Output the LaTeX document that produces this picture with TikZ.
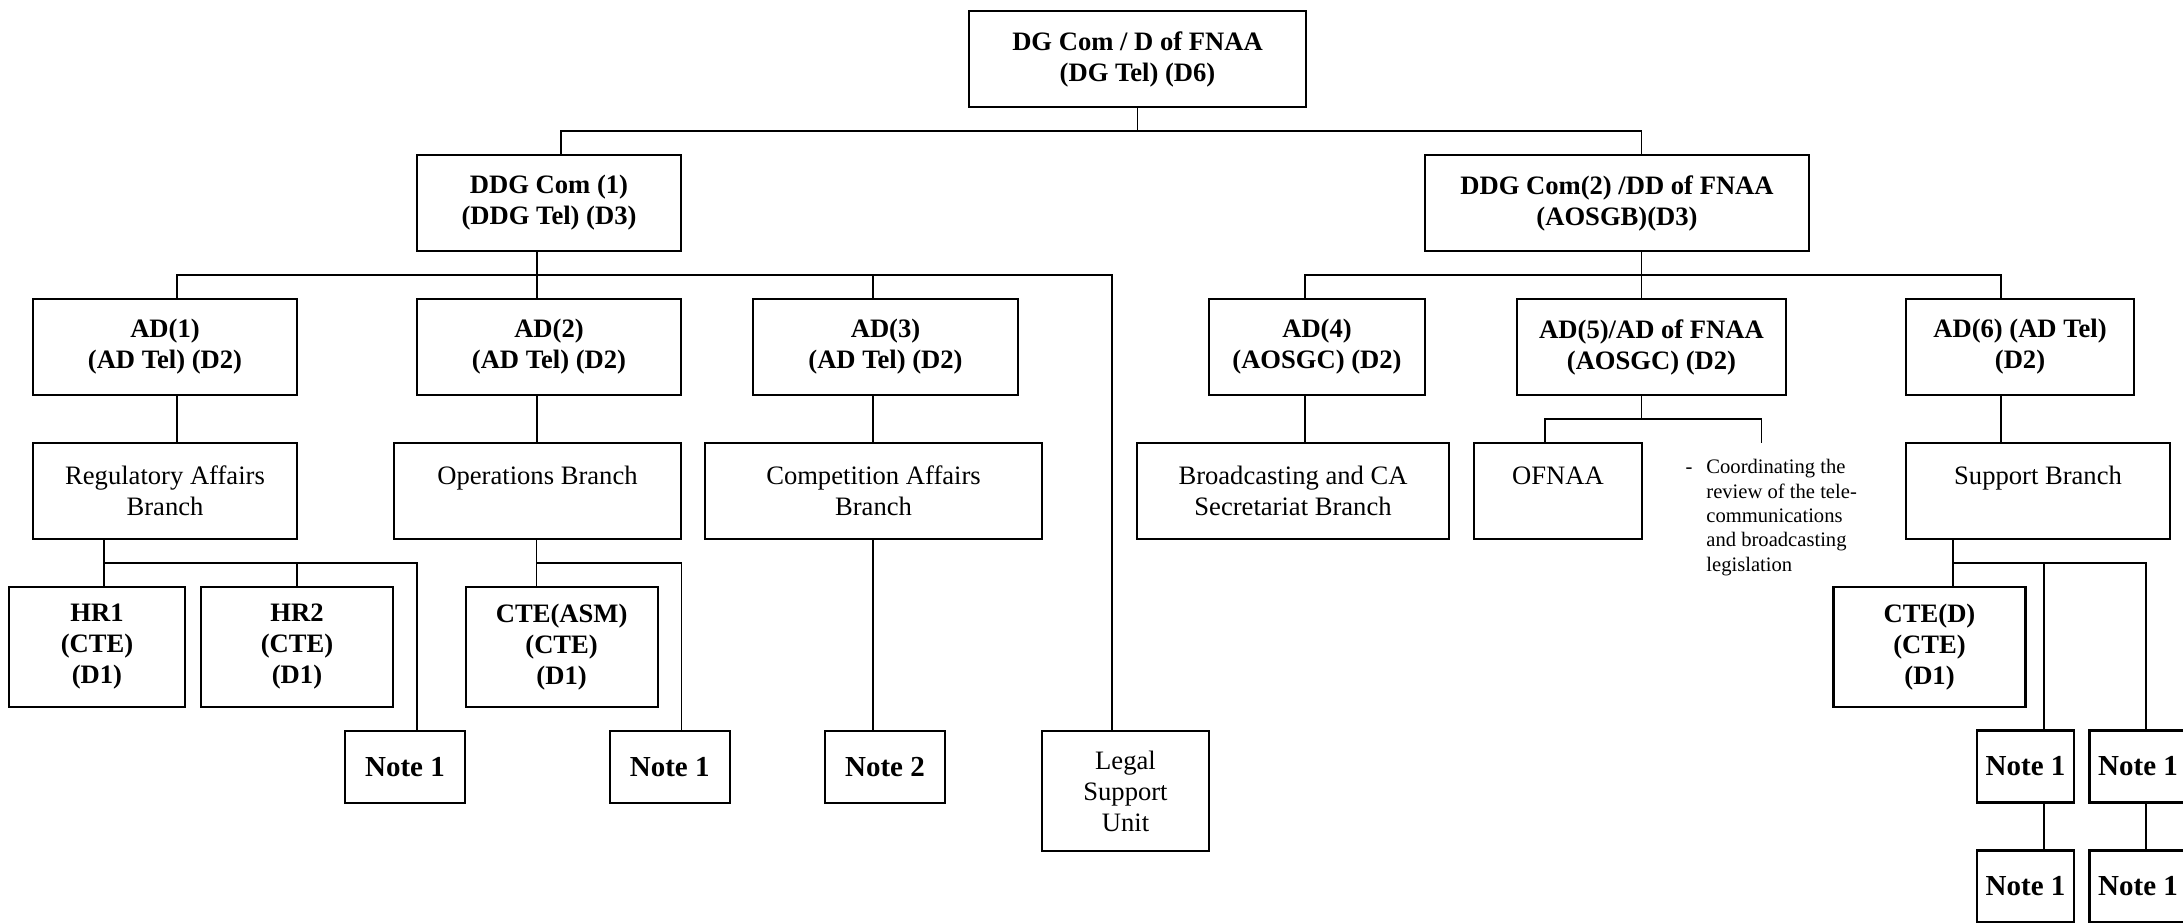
\documentclass[tikz,border=0pt]{standalone}
\usepackage{fontspec}
\setmainfont{Liberation Serif}

\tikzset{
  unit/.style={draw, line width=1.1pt, inner sep=0pt, align=center,
    font=\fontsize{13.3}{15.5}\selectfont\bfseries, minimum height=48pt},
  branch/.style={unit, font=\fontsize{13.3}{15.5}\selectfont},
  post/.style={unit, minimum height=60pt},
  note/.style={unit, minimum height=36pt, font=\fontsize{14.5}{17}\selectfont\bfseries},
  link/.style={line width=0.8pt},
}

\begin{document}
\begin{tikzpicture}[x=0.5pt, y=-0.5pt]
	\useasboundingbox (0,0) rectangle (2183,922);
	\clip (0,0) rectangle (2183,922);
	% top levels
	\node[unit, minimum width=168.5pt] (dg) at (1137.5,59) {DG Com / D of FNAA\\(DG Tel) (D6)};
	\node[unit, minimum width=132pt] (ddga) at (549,203) {DDG Com (1)\\(DDG Tel) (D3)};
	\node[unit, minimum width=192pt] (ddgb) at (1617,203) {DDG Com(2) /DD of FNAA\\(AOSGB)(D3)};
	\node[unit, minimum width=132pt] (ada) at (165,347) {AD(1)\\(AD Tel) (D2)};
	\node[unit, minimum width=132pt] (adb) at (549,347) {AD(2)\\(AD Tel) (D2)};
	\node[unit, minimum width=132.5pt] (adc) at (885.5,347) {AD(3)\\(AD Tel) (D2)};
	\node[unit, minimum width=108pt] (add) at (1317,347) {AD(4)\\(AOSGC) (D2)};
	\node[unit, minimum width=134.5pt] (ade) at (1651.5,347) {AD(5)/AD of FNAA\\(AOSGC) (D2)};
	\node[unit, minimum width=114pt] (adf) at (2020,347) {AD(6) (AD Tel)\\(D2)};
	% branches
	\node[branch, minimum width=132pt] (reg) at (165,491) {Regulatory Affairs\\Branch};
	\node[branch, minimum width=143.5pt] (ops) at (537.5,491) {Operations Branch\\\mbox{}};
	\node[branch, minimum width=168.5pt] (comp) at (873.5,491) {Competition Affairs\\Branch};
	\node[branch, minimum width=156pt] (brd) at (1293,491) {Broadcasting and CA\\Secretariat Branch};
	\node[branch, minimum width=84pt] (ofnaa) at (1558,491) {OFNAA\\\mbox{}};
	\node[branch, minimum width=132pt] (supp) at (2038,491) {Support Branch\\\mbox{}};
	\node[anchor=north west, inner sep=0pt, align=left, font=\fontsize{10.3}{12.2}\selectfont]
		(task) at (1706,459) {\llap{-\hspace{7pt}}Coordinating the\\review of the tele-\\communications\\and broadcasting\\legislation};
	% posts and notes
	\node[post, minimum width=88pt] (hra) at (97,647) {HR1\\(CTE)\\(D1)};
	\node[post, minimum width=96pt] (hrb) at (297,647) {HR2\\(CTE)\\(D1)};
	\node[post, minimum width=96pt] (asm) at (561.6,647) {CTE(ASM)\\(CTE)\\(D1)};
	\node[post, minimum width=96pt] (cted) at (1929.5,646.6) {CTE(D)\\(CTE)\\(D1)};
	\node[branch, minimum width=83.5pt, minimum height=60pt] (legal) at (1125.5,791) {Legal\\Support\\Unit};
	\node[note, minimum width=60pt] (na) at (405,767) {Note 1};
	\node[note, minimum width=60pt] (nb) at (669.7,767) {Note 1};
	\node[note, minimum width=60pt] (nc) at (885,767) {Note 2};
	\node[note, minimum width=48.5pt] (nd) at (2025.5,766.5) {Note 1};
	\node[note, minimum width=48.5pt] (ne) at (2138,766.5) {Note 1};
	\node[note, minimum width=48.5pt] (nf) at (2025.5,886.5) {Note 1};
	\node[note, minimum width=48.5pt] (ng) at (2138,886.5) {Note 1};
	% junctions
	\coordinate (tl) at (561,131);
	\coordinate (tr) at (1641.5,131);
	\coordinate (la) at (537,275);
	\coordinate (l1) at (177,275);
	\coordinate (l3) at (873,275);
	\coordinate (ll) at (1112,275);
	\coordinate (r4) at (1305,275);
	\coordinate (r6) at (2001,275);
	\coordinate (e1) at (1545,419);
	\coordinate (e2) at (1761.5,419);
	\coordinate (tip) at (1761.5,443);
	\coordinate (h1) at (104,562.7);
	\coordinate (h3) at (417,562.7);
	\coordinate (o1) at (536.5,562.7);
	\coordinate (o2) at (681.6,562.7);
	\coordinate (s1) at (1953,563);
	\coordinate (s2) at (2043.7,563);
	\coordinate (s3) at (2146,563);
	% connectors
	\draw[link] (dg.south) -- (dg.south |- tl);
	\draw[link] (tl |- ddga.north) -- (tl) -- (tr) -- (tr |- ddgb.north);
	\draw[link] (la |- ddga.south) -- (la |- adb.north);
	\draw[link] (l1 |- ada.north) -- (l1) -- (ll) -- (ll |- legal.north);
	\draw[link] (l3) -- (l3 |- adc.north);
	\draw[link] (tr |- ddgb.south) -- (tr |- ade.north);
	\draw[link] (r4 |- add.north) -- (r4) -- (r6) -- (r6 |- adf.north);
	\draw[link] (l1 |- ada.south) -- (l1 |- reg.north);
	\draw[link] (la |- adb.south) -- (la |- ops.north);
	\draw[link] (l3 |- adc.south) -- (l3 |- comp.north);
	\draw[link] (r4 |- add.south) -- (r4 |- brd.north);
	\draw[link] (r6 |- adf.south) -- (r6 |- supp.north);
	\draw[link] (tr |- ade.south) -- (tr |- e1);
	\draw[link] (e1 |- ofnaa.north) -- (e1) -- (e2) -- (tip);
	\draw[link] (h1 |- reg.south) -- (h1 |- hra.north);
	\draw[link] (h1) -- (h3) -- (h3 |- na.north);
	\draw[link] (hrb.north |- h1) -- (hrb.north);
	\draw[link] (o1 |- ops.south) -- (o1 |- asm.north);
	\draw[link] (o1) -- (o2) -- (o2 |- nb.north);
	\draw[link] (l3 |- comp.south) -- (l3 |- nc.north);
	\draw[link] (s1 |- supp.south) -- (s1 |- cted.north);
	\draw[link] (s1) -- (s3) -- (s3 |- ne.north);
	\draw[link] (s2) -- (s2 |- nd.north);
	\draw[link] (s2 |- nd.south) -- (s2 |- nf.north);
	\draw[link] (s3 |- ne.south) -- (s3 |- ng.north);
\end{tikzpicture}
\end{document}
